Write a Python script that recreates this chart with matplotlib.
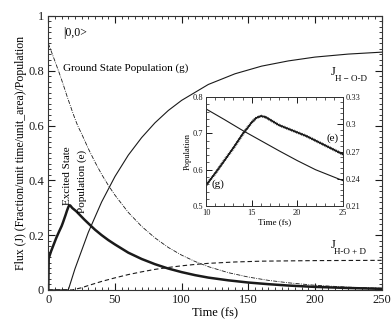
import matplotlib.pyplot as plt
from matplotlib import patheffects
from matplotlib.ticker import MultipleLocator, FormatStrFormatter

plt.rcParams['font.family'] = ['Liberation Serif', 'DejaVu Serif']

# ground state population (g)
t_g = [0, 2, 5, 8, 10, 12, 14, 16, 18, 20, 22, 25, 30, 35, 40, 45, 50, 60, 70,
       80, 90, 100, 110, 120, 135, 150, 165, 180, 200, 225, 250]
pop_g = [0.90, 0.874, 0.835, 0.795, 0.767, 0.738, 0.708, 0.680, 0.652, 0.625,
         0.600, 0.570, 0.516, 0.467, 0.422, 0.382, 0.346, 0.283, 0.232, 0.190,
         0.155, 0.127, 0.104, 0.085, 0.063, 0.047, 0.035, 0.026, 0.017, 0.010,
         0.006]

# excited state population (e)
t_e = [0, 0.3, 2, 4, 6, 8, 10, 11, 12, 13, 14, 15, 15.5, 16, 16.5, 17, 18, 19,
       20, 21, 22, 23, 24, 25, 27, 30, 35, 40, 45, 50, 60, 70, 80, 90, 100, 110,
       120, 135, 150, 165, 180, 200, 225, 250]
pop_e = [0, 0.115, 0.140, 0.165, 0.190, 0.212, 0.233, 0.246, 0.260, 0.274,
         0.289, 0.302, 0.307, 0.309, 0.308, 0.305, 0.299, 0.295, 0.291, 0.287,
         0.282, 0.277, 0.272, 0.267, 0.257, 0.243, 0.220, 0.200, 0.182, 0.166,
         0.136, 0.113, 0.094, 0.078, 0.065, 0.054, 0.045, 0.035, 0.027, 0.021,
         0.016, 0.011, 0.007, 0.004]

# flux J(H-O-D)
t_j1 = [0, 15, 20, 30, 40, 50, 60, 70, 80, 90, 100, 120, 140, 160, 180, 200,
        225, 250]
flux_j1 = [0, 0, 0.077, 0.210, 0.321, 0.414, 0.492, 0.556, 0.610, 0.655,
           0.692, 0.750, 0.789, 0.817, 0.836, 0.850, 0.861, 0.868]

# flux J(H-O + D)
t_j2 = [0, 18, 25, 30, 40, 50, 60, 70, 80, 90, 100, 110, 120, 140, 160, 200,
        250]
flux_j2 = [0, 0, 0.008, 0.016, 0.031, 0.044, 0.056, 0.066, 0.075, 0.082,
           0.088, 0.093, 0.097, 0.102, 0.105, 0.107, 0.108]

ink = '#1a1a1a'

fig = plt.figure(figsize=(3.91, 3.2), dpi=100)
ax = fig.add_axes([0.1235, 0.094, 0.8525, 0.856])

ax.plot(t_g, pop_g, color=ink, lw=0.6, dashes=(5, 1.5, 1, 1.5))
ax.plot(t_e, pop_e, color=ink, lw=1.8)
ax.plot(t_j1, flux_j1, color=ink, lw=0.8)
ax.plot(t_j2, flux_j2, color=ink, lw=0.8, dashes=(4, 2.5))

ax.set_xlim(0, 250)
ax.set_ylim(0, 1)
ax.xaxis.set_major_locator(MultipleLocator(50))
ax.xaxis.set_minor_locator(MultipleLocator(5))
ax.yaxis.set_major_locator(MultipleLocator(0.2))
ax.yaxis.set_minor_locator(MultipleLocator(0.02))
ax.yaxis.set_major_formatter(FormatStrFormatter('%g'))
ax.tick_params(which='both', direction='in', top=True, right=True,
               labelsize=9, colors=ink, pad=3)
ax.tick_params(which='major', length=5, width=0.8)
ax.tick_params(which='minor', length=2.5, width=0.6)
for s in ax.spines.values():
    s.set_linewidth(0.8)
    s.set_color('#333333')

ax.set_xlabel('Time (fs)', fontsize=9, labelpad=1)
ax.set_ylabel('Flux (J) (Fraction/unit time/unit_area)/Population',
              fontsize=8.5, labelpad=1)

ax.text(11, 0.938, '|0,0>', fontsize=8.5, va='center', ha='left')
ax.text(11, 0.808, 'Ground State Population (g)', fontsize=8, va='center',
        ha='left')
ax.text(14.4, 0.31, 'Excited State', fontsize=8, rotation=90, ha='center',
        va='bottom')
ax.text(25.5, 0.28, 'Population (e)', fontsize=8, rotation=90, ha='center',
        va='bottom')
ax.text(212, 0.796, 'J', fontsize=9, va='center', ha='left')
ax.text(215, 0.77, 'H \u2212 O-D', fontsize=6.5, va='center', ha='left')
ax.text(211.5, 0.164, 'J', fontsize=9, va='center', ha='left')
ax.text(214.5, 0.14, 'H-O + D', fontsize=6.5, va='center', ha='left')

# inset
ax_in = fig.add_axes([0.527, 0.356, 0.35, 0.341])
ax_in.set_facecolor('white')
ax_in.plot(t_g, pop_g, color=ink, lw=0.8)
ax_in.set_xlim(10, 25)
ax_in.set_ylim(0.5, 0.8)
ax_in.set_xticks([10, 15, 20, 25])
ax_in.xaxis.set_minor_locator(MultipleLocator(1))
ax_in.set_yticks([0.5, 0.6, 0.7, 0.8])
ax_in.yaxis.set_minor_locator(MultipleLocator(0.02))
ax_in.yaxis.set_major_formatter(FormatStrFormatter('%g'))
ax_in.tick_params(which='both', direction='in', top=True, right=False,
                  labelsize=6, colors=ink, pad=2)
ax_in.tick_params(which='major', length=4, width=0.7)
ax_in.tick_params(which='minor', length=2, width=0.5)
ax_in.set_xlabel('Time (fs)', fontsize=6.5, labelpad=1)
ax_in.set_ylabel('Population', fontsize=6, labelpad=1)

ax_in2 = ax_in.twinx()
ax_in2.plot(t_e, pop_e, color=ink, lw=0.8, path_effects=[
    patheffects.withTickedStroke(angle=90, spacing=1.3, length=0.6,
                                 linewidth=0.5),
    patheffects.withTickedStroke(angle=-90, spacing=1.3, length=0.6,
                                 linewidth=0.5),
    patheffects.Normal()])
ax_in2.set_ylim(0.21, 0.33)
ax_in2.set_yticks([0.21, 0.24, 0.27, 0.30, 0.33])
ax_in2.yaxis.set_minor_locator(MultipleLocator(0.006))
ax_in2.yaxis.set_major_formatter(FormatStrFormatter('%g'))
ax_in2.tick_params(which='both', direction='in', labelsize=6, colors=ink,
                   pad=2)
ax_in2.tick_params(which='major', length=4, width=0.7)
ax_in2.tick_params(which='minor', length=2, width=0.5)
for a in (ax_in, ax_in2):
    for s in a.spines.values():
        s.set_linewidth(0.7)
        s.set_color('#333333')

ax_in.text(11.3, 0.56, '(g)', fontsize=8, ha='center', va='center')
ax_in2.text(23.9, 0.285, '(e)', fontsize=8, ha='center', va='center')

fig.savefig('out.png', dpi=100)
